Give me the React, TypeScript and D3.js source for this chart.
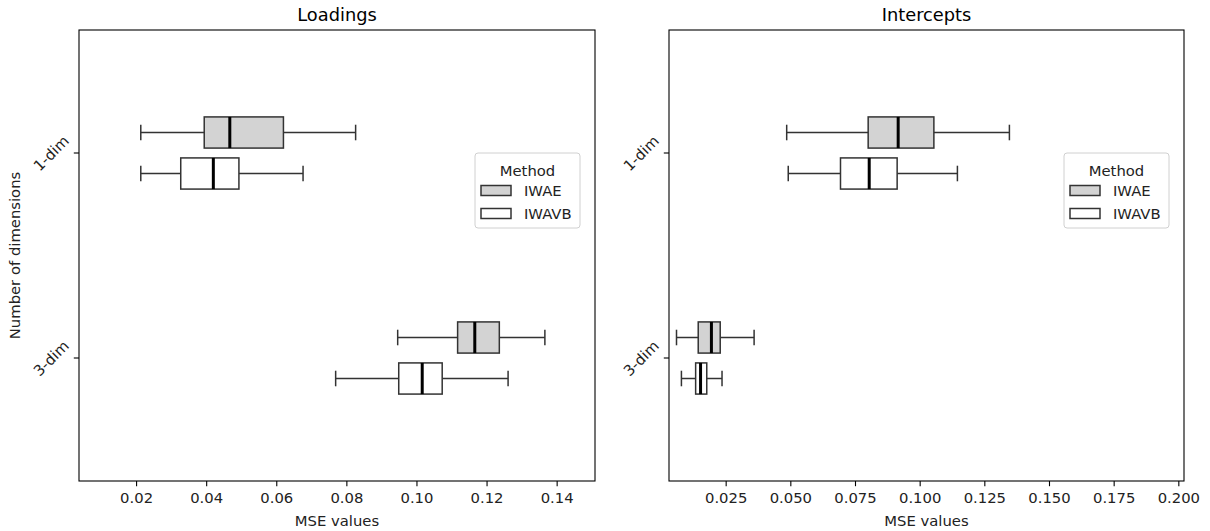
import React from "react";
import * as d3 from "d3";

// ---- data ----
const categories = ["1-dim", "3-dim"];
const methods = ["IWAE", "IWAVB"];
const methodFills = ["#d3d3d3", "#ffffff"];
// [whisker low, q1, median, q3, whisker high] per category
const loadingsIWAE = [
  [0.0212, 0.0393, 0.0466, 0.0619, 0.0825],
  [0.0945, 0.1116, 0.1165, 0.1235, 0.1365],
];
const loadingsIWAVB = [
  [0.0212, 0.0326, 0.0419, 0.0492, 0.0675],
  [0.0768, 0.0948, 0.1015, 0.1072, 0.126],
];
const interceptsIWAE = [
  [0.0484, 0.0799, 0.0915, 0.1053, 0.1345],
  [0.0058, 0.0142, 0.0193, 0.0227, 0.0358],
];
const interceptsIWAVB = [
  [0.049, 0.0692, 0.0803, 0.0911, 0.1144],
  [0.0077, 0.0132, 0.0151, 0.0175, 0.0234],
];
const loadingsTicks = [0.02, 0.04, 0.06, 0.08, 0.1, 0.12, 0.14];
const interceptsTicks = [0.025, 0.05, 0.075, 0.1, 0.125, 0.15, 0.175, 0.2];
const panelTitles = ["Loadings", "Intercepts"];

const FONT = "DejaVu Sans, sans-serif";
const W = 1210;
const H = 531;
const TOP = 30;
const BOTTOM = 481;
const EDGE = "#333333";
const FS = 14.8;

type PanelProps = {
  left: number;
  right: number;
  domain: [number, number];
  ticks: number[];
  fmt: string;
  title: string;
  series: number[][][];
  showY: boolean;
};

function Panel({ left, right, domain, ticks, fmt, title, series, showY }: PanelProps) {
  const x = d3.scaleLinear().domain(domain).range([left, right]);
  const y = d3.scaleLinear().domain([-0.6, 1.6]).range([TOP, BOTTOM]);
  const f = d3.format(fmt);
  const offsets = [-0.1, 0.1];
  const boxH = y(0.152) - y(0);
  const capH = boxH / 2;
  const cx = (left + right) / 2;
  const legW = 105;
  const legR = right - 15;
  const legL = legR - legW;
  const legT = 153;
  const legB = 228;
  return (
    <g>
      <text x={cx} y={21} textAnchor="middle" fontSize={17.8} fill="#000">{title}</text>
      {series.map((s, mi) =>
        s.map((st, ci) => {
          const yc = y(ci + offsets[mi]);
          const [wl, q1, md, q3, wh] = st;
          return (
            <g key={`${mi}-${ci}`}>
              <line x1={x(wl)} x2={x(q1)} y1={yc} y2={yc} stroke={EDGE} strokeWidth={1.5} />
              <line x1={x(q3)} x2={x(wh)} y1={yc} y2={yc} stroke={EDGE} strokeWidth={1.5} />
              <line x1={x(wl)} x2={x(wl)} y1={yc - capH / 2} y2={yc + capH / 2} stroke={EDGE} strokeWidth={1.5} />
              <line x1={x(wh)} x2={x(wh)} y1={yc - capH / 2} y2={yc + capH / 2} stroke={EDGE} strokeWidth={1.5} />
              <rect x={x(q1)} y={yc - boxH / 2} width={x(q3) - x(q1)} height={boxH} fill={methodFills[mi]} stroke={EDGE} strokeWidth={1.5} />
              <line x1={x(md)} x2={x(md)} y1={yc - boxH / 2} y2={yc + boxH / 2} stroke="#000" strokeWidth={3} />
            </g>
          );
        })
      )}
      <rect x={left} y={TOP} width={right - left} height={BOTTOM - TOP} fill="none" stroke="#000" strokeWidth={1.1} />
      {ticks.map((t) => (
        <g key={t}>
          <line x1={x(t)} x2={x(t)} y1={BOTTOM} y2={BOTTOM + 5.2} stroke="#000" strokeWidth={1.1} />
          <text x={x(t)} y={502.5} textAnchor="middle" fontSize={FS} fill="#222">{f(t)}</text>
        </g>
      ))}
      <text x={cx} y={526} textAnchor="middle" fontSize={FS} fill="#222">MSE values</text>
      {categories.map((c, ci) => (
        <g key={c}>
          <line x1={left - 5.2} x2={left} y1={y(ci)} y2={y(ci)} stroke="#000" strokeWidth={1.1} />
          <text
            transform={`translate(${left - 13},${y(ci) - 15}) rotate(-45)`}
            textAnchor="end"
            dominantBaseline="central"
            fontSize={FS}
            fill="#222"
          >
            {c}
          </text>
        </g>
      ))}
      {showY && (
        <text transform={`translate(20,${(TOP + BOTTOM) / 2}) rotate(-90)`} textAnchor="middle" fontSize={FS} fill="#222">
          Number of dimensions
        </text>
      )}
      <rect x={legL} y={legT} width={legW} height={legB - legT} rx={3} fill="#fff" fillOpacity={0.8} stroke="#d0d0d0" strokeWidth={1} />
      <text x={(legL + legR) / 2} y={176} textAnchor="middle" fontSize={FS} fill="#222">Method</text>
      {methods.map((m, mi) => {
        const py = 190.5 + mi * 23;
        return (
          <g key={m}>
            <rect x={legL + 6} y={py - 5} width={30} height={10} fill={methodFills[mi]} stroke={EDGE} strokeWidth={1.5} />
            <text x={legL + 49} y={py} dominantBaseline="central" fontSize={FS} fill="#222">{m}</text>
          </g>
        );
      })}
    </g>
  );
}

export default function App() {
  return (
    <svg width={W} height={H} style={{ position: "absolute", left: 0, top: 0, background: "#fff" }} fontFamily={FONT}>
      <rect width={W} height={H} fill="#fff" />
      <Panel
        left={79}
        right={595}
        domain={[0.00357, 0.1508]}
        ticks={loadingsTicks}
        fmt=".2f"
        title={panelTitles[0]}
        series={[loadingsIWAE, loadingsIWAVB]}
        showY={true}
      />
      <Panel
        left={669}
        right={1184}
        domain={[0.0029, 0.202]}
        ticks={interceptsTicks}
        fmt=".3f"
        title={panelTitles[1]}
        series={[interceptsIWAE, interceptsIWAVB]}
        showY={false}
      />
    </svg>
  );
}
